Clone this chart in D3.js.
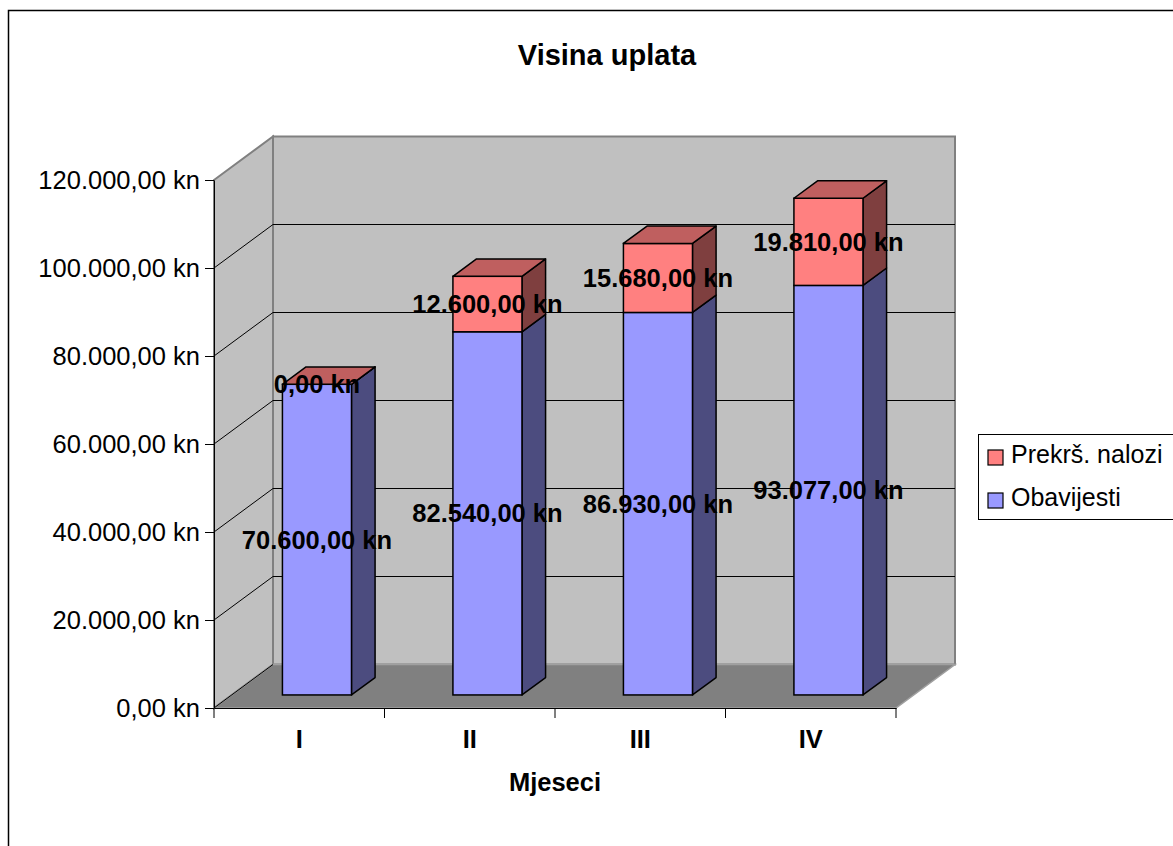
<!DOCTYPE html>
<html>
<head>
<meta charset="utf-8">
<script src="https://cdn.jsdelivr.net/npm/d3@7"></script>
<style>
  body { margin: 0; background: #fff; }
  svg { display: block; font-family: "Liberation Sans", Arial, sans-serif; }
</style>
</head>
<body>
<svg id="chart" width="1173" height="846"></svg>
<script>
// podaci
const mjeseci = ["I", "II", "III", "IV"];
const obavijesti = [70600, 82540, 86930, 93077];
const prekrsNalozi = [0, 12600, 15680, 19810];
const yTicks = [0, 20000, 40000, 60000, 80000, 100000, 120000];
const serije = [
  { name: "Obavijesti", values: obavijesti, front: "#9999ff", side: "#4c4c7f", top: "#7373bf" },
  { name: "Prekrš. nalozi", values: prekrsNalozi, front: "#ff8080", side: "#7f3f3f", top: "#bf5f5f" }
];

const hr = d3.formatLocale({ decimal: ",", thousands: ".", grouping: [3], currency: ["", " kn"] });
const fmt = hr.format("$,.2f");

const svg = d3.select("#chart");

// okvir grafikona
svg.append("rect")
  .attr("x", 8.5).attr("y", 10.5)
  .attr("width", 1200).attr("height", 900)
  .attr("fill", "#fff").attr("stroke", "#000").attr("stroke-width", 1.5);

svg.append("text")
  .attr("x", 607).attr("y", 65)
  .attr("text-anchor", "middle")
  .style("font-size", "29px").style("font-weight", "bold")
  .text("Visina uplata");

// skale
const x0 = d3.scaleBand().domain(mjeseci).range([214, 896]).padding(0);
const xb = d3.scaleBand().domain(mjeseci).range([214, 896]).paddingInner(0.595).paddingOuter(0.2975);
const y = d3.scaleLinear().domain([0, 120000]).range([708, 180]);

// dubina 3D
const D = { x: 59, y: -43.5 };
const b0 = 0.3, b1 = 0.7;

const pts = arr => arr.map(p => p.join(",")).join(" ");
const yTop = y(120000), yBot = y(0), xL = 214, xR = 896;

// zadnji zid
svg.append("polygon")
  .attr("points", pts([[xL + D.x, yTop + D.y], [xR + D.x, yTop + D.y], [xR + D.x, yBot + D.y], [xL + D.x, yBot + D.y]]))
  .attr("fill", "#c0c0c0").attr("stroke", "#808080").attr("stroke-width", 2);

// bocni zid
svg.append("polygon")
  .attr("points", pts([[xL, yTop], [xL + D.x, yTop + D.y], [xL + D.x, yBot + D.y], [xL, yBot]]))
  .attr("fill", "#c0c0c0").attr("stroke", "#808080").attr("stroke-width", 2);

// pod
svg.append("polygon")
  .attr("points", pts([[xL, yBot], [xL + D.x, yBot + D.y], [xR + D.x, yBot + D.y], [xR, yBot]]))
  .attr("fill", "#808080").attr("stroke", "#a0a0a0").attr("stroke-width", 1.5);

// mreza
const grid = yTicks.filter(t => t > 0 && t < 120000);
svg.append("g").selectAll("line.back").data(grid).enter().append("line")
  .attr("x1", xL + D.x).attr("x2", xR + D.x)
  .attr("y1", d => y(d) + D.y).attr("y2", d => y(d) + D.y)
  .attr("stroke", "#000").attr("stroke-width", 1);
svg.append("g").selectAll("line.side").data(grid.concat([0])).enter().append("line")
  .attr("x1", xL).attr("y1", d => y(d))
  .attr("x2", xL + D.x).attr("y2", d => y(d) + D.y)
  .attr("stroke", "#000").attr("stroke-width", 1);

// stupci
const bw = xb.bandwidth();
const labels = [];
mjeseci.forEach((m, i) => {
  const g = svg.append("g");
  const fx = xb(m) + D.x * b0;
  const oy = D.y * b0;
  const dx = D.x * (b1 - b0), dy = D.y * (b1 - b0);
  let base = 0;
  serije.forEach(s => {
    const v = s.values[i];
    const yb = y(base) + oy, yt = y(base + v) + oy;
    g.append("polygon")
      .attr("points", pts([[fx + bw, yb], [fx + bw + dx, yb + dy], [fx + bw + dx, yt + dy], [fx + bw, yt]]))
      .attr("fill", s.side).attr("stroke", "#000").attr("stroke-width", 1.5).attr("stroke-linejoin", "round");
    g.append("rect")
      .attr("x", fx).attr("y", yt).attr("width", bw).attr("height", yb - yt)
      .attr("fill", s.front).attr("stroke", "#000").attr("stroke-width", 1.5);
    labels.push({ x: fx + bw / 2, y: (yb + yt) / 2, text: fmt(v) });
    base += v;
  });
  const last = serije[serije.length - 1];
  const yt = y(base) + oy;
  g.append("polygon")
    .attr("points", pts([[fx, yt], [fx + dx, yt + dy], [fx + bw + dx, yt + dy], [fx + bw, yt]]))
    .attr("fill", last.top).attr("stroke", "#000").attr("stroke-width", 1.5).attr("stroke-linejoin", "round");
});

// os y
const yAxis = svg.append("g")
  .attr("transform", `translate(${xL},0)`)
  .call(d3.axisLeft(y).tickValues(yTicks).tickFormat(fmt).tickSize(9).tickSizeOuter(0).tickPadding(5));
yAxis.select(".domain").attr("stroke", "#000");
yAxis.selectAll("text").style("font-size", "25.5px").attr("fill", "#000");
yAxis.selectAll("line").attr("stroke", "#000");

// os x
const xAxis = svg.append("g")
  .attr("transform", `translate(0,${yBot})`)
  .call(d3.axisBottom(x0).tickSize(0).tickPadding(22).tickSizeOuter(0));
xAxis.select(".domain").attr("stroke", "#000").attr("stroke-width", 1.2);
xAxis.selectAll("text").style("font-size", "25.5px").style("font-weight", "bold").attr("fill", "#000");
const granice = mjeseci.map(m => x0(m)).concat([x0.range()[1]]);
xAxis.selectAll("line.granica").data(granice).enter().append("line")
  .attr("class", "granica")
  .attr("x1", d => d).attr("x2", d => d)
  .attr("y1", 0).attr("y2", 10)
  .attr("stroke", "#000");

svg.append("text")
  .attr("x", (xL + xR) / 2).attr("y", 791)
  .attr("text-anchor", "middle")
  .style("font-size", "25.5px").style("font-weight", "bold")
  .text("Mjeseci");

// oznake vrijednosti
svg.append("g").selectAll("text").data(labels).enter().append("text")
  .attr("x", d => d.x).attr("y", d => d.y)
  .attr("dy", "0.35em")
  .attr("text-anchor", "middle")
  .style("font-size", "25.5px").style("font-weight", "bold")
  .text(d => d.text);

// legenda
const leg = svg.append("g");
leg.append("rect")
  .attr("x", 978.5).attr("y", 434.5).attr("width", 220).attr("height", 85)
  .attr("fill", "#fff").attr("stroke", "#000").attr("stroke-width", 1);
serije.slice().reverse().forEach((s, i) => {
  leg.append("rect")
    .attr("x", 988).attr("y", 450 + i * 43).attr("width", 15).attr("height", 15)
    .attr("fill", s.front).attr("stroke", "#000").attr("stroke-width", 1.2);
  leg.append("text")
    .attr("x", 1011).attr("y", 463 + i * 43)
    .style("font-size", "25px")
    .text(s.name);
});
</script>
</body>
</html>
